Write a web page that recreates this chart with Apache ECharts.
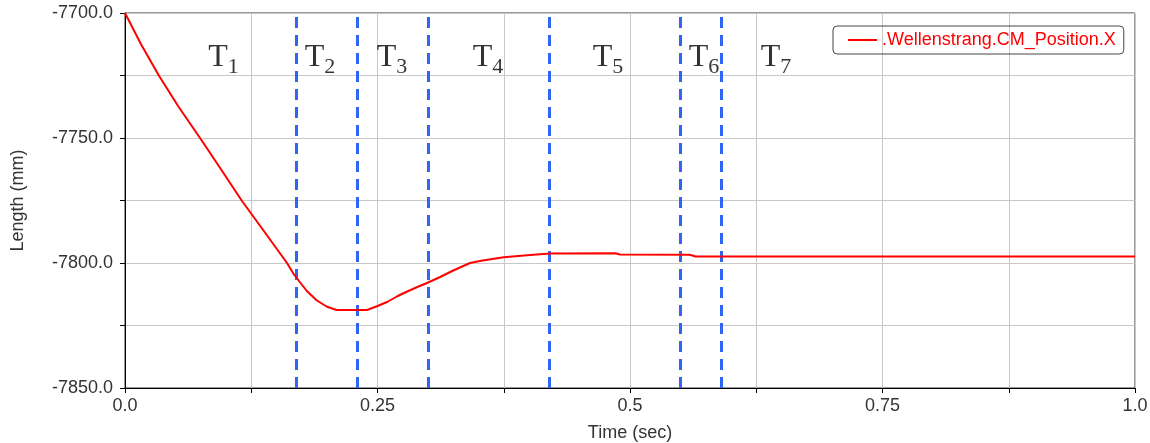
<!DOCTYPE html>
<html>
<head>
<meta charset="utf-8">
<script src="https://cdn.jsdelivr.net/npm/echarts@6/dist/echarts.min.js"></script>
<style>
  html, body { margin: 0; padding: 0; background: #fff; }
  #chart { width: 1150px; height: 443px; }
</style>
</head>
<body>
<div id="chart"></div>
<script>
// time axis (sec) and position of the shaft (mm)
const timeSec = [0, 0.016, 0.0335, 0.053, 0.0743, 0.095, 0.1155, 0.138, 0.1604, 0.1673,
  0.18, 0.19, 0.20, 0.2096, 0.2396, 0.25, 0.26, 0.27, 0.28, 0.29, 0.299, 0.312, 0.325,
  0.3416, 0.354, 0.375, 0.401, 0.421, 0.4856, 0.49, 0.559, 0.565, 1.0];
const posX = [-7700, -7712.6, -7725, -7737.5, -7750, -7762.5, -7775, -7787.5, -7800, -7804.6,
  -7811.2, -7815, -7817.5, -7818.8, -7818.8, -7817.2, -7815.5, -7813.2, -7811.3, -7809.5, -7808, -7805.6, -7803,
  -7800, -7799, -7797.7, -7796.8, -7796.2, -7796.1, -7796.6, -7796.7, -7797.4, -7797.4];

// phase boundaries (dashed lines) and phase labels
const phaseBounds = [0.1673, 0.2287, 0.299, 0.4208, 0.5485, 0.595];
const phaseNames = ['1', '2', '3', '4', '5', '6', '7'];
const phaseLabelX = [0.0975, 0.1931, 0.2644, 0.3594, 0.4782, 0.5733, 0.6446];
const phaseLabelY = -7718;

const xLabels = { '0': '0.0', '0.25': '0.25', '0.5': '0.5', '0.75': '0.75', '1': '1.0' };

const chart = echarts.init(document.getElementById('chart'));
const font = 'Liberation Sans, Arial, sans-serif';

chart.setOption({
  animation: false,
  grid: {
    left: 125, right: 15, top: 13, bottom: 55,
    containLabel: false, outerBoundsMode: 'none',
    show: true, borderColor: '#333', borderWidth: 1
  },
  legend: {
    data: ['.Wellenstrang.CM_Position.X'],
    left: 833, top: 26,
    padding: [5, 8, 5, 15],
    itemWidth: 29, itemHeight: 2, itemGap: 5,
    icon: 'rect',
    borderColor: '#444', borderWidth: 1, borderRadius: 4,
    textStyle: { color: '#ff0000', fontSize: 18, fontFamily: font }
  },
  xAxis: {
    type: 'value', min: 0, max: 1, interval: 0.125,
    name: 'Time (sec)', nameLocation: 'middle', nameGap: 36,
    nameTextStyle: { color: '#333', fontSize: 18, fontFamily: font },
    axisLine: { onZero: false, lineStyle: { color: '#000', width: 1 } },
    axisTick: { show: true, length: 5, lineStyle: { color: '#000' } },
    axisLabel: {
      color: '#333', fontSize: 18, fontFamily: font, margin: 9,
      formatter: v => xLabels[String(+v.toFixed(3))] || ''
    },
    splitLine: { show: true, lineStyle: { color: '#c8c8c8', width: 1 } }
  },
  yAxis: {
    type: 'value', min: -7850, max: -7700, interval: 25,
    name: 'Length (mm)', nameLocation: 'middle', nameGap: 98, nameRotate: 90,
    nameTextStyle: { color: '#333', fontSize: 18, fontFamily: font },
    axisLine: { show: true, onZero: false, lineStyle: { color: '#000', width: 1 } },
    axisTick: { show: true, length: 5, lineStyle: { color: '#000' } },
    axisLabel: {
      color: '#333', fontSize: 18, fontFamily: font, margin: 12,
      formatter: v => (v % 50 === 0 ? v.toFixed(1) : '')
    },
    splitLine: { show: true, lineStyle: { color: '#c8c8c8', width: 1 } }
  },
  series: [
    {
      name: '.Wellenstrang.CM_Position.X',
      type: 'line',
      data: timeSec.map((t, i) => [t, posX[i]]),
      showSymbol: false,
      lineStyle: { color: '#ff0000', width: 2 },
      itemStyle: { color: '#ff0000' },
      z: 5,
      markLine: {
        silent: true,
        symbol: ['none', 'none'],
        label: { show: false },
        lineStyle: { color: '#2f66f5', width: 3, type: [11, 7] },
        data: phaseBounds.map(v => ({ xAxis: v }))
      }
    },
    {
      name: 'phases',
      type: 'scatter',
      symbolSize: 0,
      silent: true,
      data: phaseLabelX.map((x, i) => ({ value: [x, phaseLabelY], name: phaseNames[i] })),
      label: {
        show: true,
        position: 'inside',
        formatter: p => '{t|T}{s|' + p.name + '}',
        rich: {
          t: { fontFamily: 'Liberation Serif, Times New Roman, serif', fontSize: 32, color: '#000', lineHeight: 40 },
          s: { fontFamily: 'Liberation Serif, Times New Roman, serif', fontSize: 22, color: '#000',
               verticalAlign: 'bottom', lineHeight: 40 }
        }
      }
    }
  ]
});
</script>
</body>
</html>
